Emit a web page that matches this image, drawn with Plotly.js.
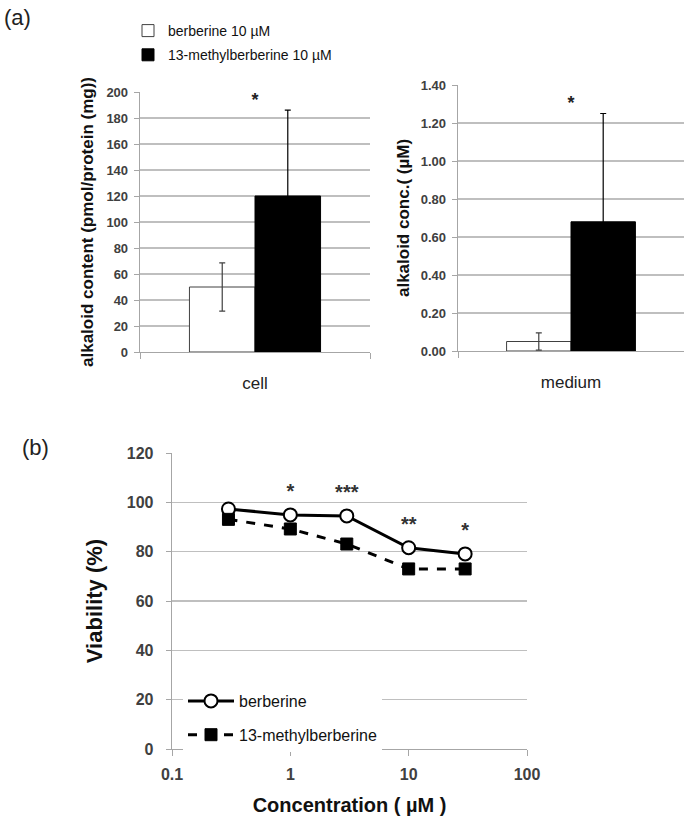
<!DOCTYPE html>
<html><head><meta charset="utf-8">
<script src="https://cdn.plot.ly/plotly-3.0.1.min.js"></script>
<style>html,body{margin:0;padding:0;background:#fff}</style>
</head><body><div id="chart" style="width:685px;height:822px"></div>
<script>
// ---- data (a) ----
const barSeries = ['berberine 10 µM', '13-methylberberine 10 µM'];
const cellCategory = ['cell'];
const mediumCategory = ['medium'];
const cellMeans = [50, 120];
const cellErrors = [18.5, 66];
const mediumMeans = [0.05, 0.68];
const mediumErrors = [0.045, 0.57];
const cellSignificance = ['', '*'];
const mediumSignificance = ['', '*'];
// ---- data (b) ----
const lineSeries = ['berberine', '13-methylberberine'];
const concentrations = [0.3, 1, 3, 10, 30];
const berberineViability = [97.3, 94.9, 94.5, 81.6, 79.1];
const methylViability = [93.1, 89.2, 83.1, 73, 73];
const viabilitySignificance = ['', '*', '***', '**', '*'];

const FONT = 'Liberation Sans, Arial, sans-serif';
const GRID = '#bfbfbf';
const AXIS = '#a6a6a6';
const TXT = '#404040';
const fills = ['#ffffff', '#000000'];
const outlines = ['#404040', '#000000'];
const errColors = ['#404040', '#000000'];

const traces = [];
// bars
barSeries.forEach((name, i) => {
  traces.push({
    type: 'bar', x: cellCategory, y: [cellMeans[i]], name: name,
    xaxis: 'x', yaxis: 'y', legend: 'legend', legendgroup: 'g' + i,
    marker: {color: fills[i], line: {color: outlines[i], width: 1}},
    error_y: {type: 'data', array: [cellErrors[i]], visible: true, color: errColors[i], thickness: 1.2, width: 3},
    showlegend: true, hoverinfo: 'skip'
  });
  traces.push({
    type: 'bar', x: mediumCategory, y: [mediumMeans[i]], name: name,
    xaxis: 'x2', yaxis: 'y2', legendgroup: 'g' + i,
    marker: {color: fills[i], line: {color: outlines[i], width: 1}},
    error_y: {type: 'data', array: [mediumErrors[i]], visible: true, color: errColors[i], thickness: 1.2, width: 3},
    showlegend: false, hoverinfo: 'skip'
  });
});
// significance on bars (placed above error bar tops)
traces.push({
  type: 'scatter', mode: 'text', xaxis: 'x', yaxis: 'y', showlegend: false,
  x: cellCategory, y: [cellMeans[1] + cellErrors[1]], text: [cellSignificance[1]],
  textposition: 'top center', textfont: {family: FONT, size: 18, color: '#222', weight: 'bold'}, hoverinfo: 'skip'
});
traces.push({
  type: 'scatter', mode: 'text', xaxis: 'x2', yaxis: 'y2', showlegend: false,
  x: mediumCategory, y: [mediumMeans[1] + mediumErrors[1]], text: [mediumSignificance[1]],
  textposition: 'top center', textfont: {family: FONT, size: 18, color: '#222', weight: 'bold'}, hoverinfo: 'skip'
});
// lines
traces.push({
  type: 'scatter', mode: 'lines+markers', name: lineSeries[0], x: concentrations, y: berberineViability,
  xaxis: 'x3', yaxis: 'y3', legend: 'legend2', legendgroup: 'l0',
  line: {color: '#000', width: 3},
  marker: {symbol: 'circle', size: 13, color: '#fff', line: {color: '#000', width: 2}}, hoverinfo: 'skip'
});
traces.push({
  type: 'scatter', mode: 'lines+markers', name: lineSeries[1], x: concentrations, y: methylViability,
  xaxis: 'x3', yaxis: 'y3', legend: 'legend2', legendgroup: 'l1',
  line: {color: '#000', width: 3, dash: 'dash'},
  marker: {symbol: 'square', size: 12, color: '#000', line: {color: '#000', width: 1}}, hoverinfo: 'skip'
});
traces.push({
  type: 'scatter', mode: 'text', x: concentrations, y: berberineViability.map(v => v + 9),
  text: viabilitySignificance, xaxis: 'x3', yaxis: 'y3', showlegend: false,
  textposition: 'middle center', textfont: {family: FONT, size: 20, color: '#333', weight: 'bold'}, hoverinfo: 'skip'
});

const baseY = {
  showgrid: true, gridcolor: GRID, gridwidth: 1.3, showline: true, linecolor: AXIS, linewidth: 1.3,
  ticks: 'outside', ticklen: 5, tickcolor: AXIS, zeroline: false, fixedrange: true, ticklabelstandoff: 3,
  tickfont: {family: FONT, size: 13, color: TXT, weight: 'bold'}
};
const layout = {
  width: 685, height: 822, margin: {l: 0, r: 0, t: 0, b: 0},
  paper_bgcolor: '#fff', plot_bgcolor: 'rgba(0,0,0,0)',
  bargap: 0.43, barmode: 'group', showlegend: true,
  font: {family: FONT, color: TXT},
  xaxis: {domain: [140/685, 370/685], anchor: 'y', type: 'category', showline: true, linecolor: AXIS, linewidth: 1.3,
    ticks: 'outside', tickson: 'boundaries', ticklen: 6, tickcolor: AXIS, ticklabelstandoff: 15,
    tickfont: {family: FONT, size: 17, color: '#222'}, showgrid: false, fixedrange: true},
  yaxis: Object.assign({}, baseY, {domain: [1 - 352/822, 1 - 92/822], anchor: 'x', range: [0, 200], dtick: 20,
    title: {text: 'alkaloid content (pmol/protein (mg))', standoff: 8, font: {family: FONT, size: 17, color: '#111', weight: 'bold'}}}),
  xaxis2: {domain: [458/685, 684/685], anchor: 'y2', type: 'category', showline: true, linecolor: AXIS, linewidth: 1.3,
    ticks: 'outside', tickson: 'boundaries', ticklen: 6, tickcolor: AXIS, ticklabelstandoff: 15,
    tickfont: {family: FONT, size: 17, color: '#222'}, showgrid: false, fixedrange: true},
  yaxis2: Object.assign({}, baseY, {domain: [1 - 351/822, 1 - 85/822], anchor: 'x2', range: [0, 1.4], dtick: 0.2, tickformat: '.2f',
    title: {text: 'alkaloid conc.( (µM)', standoff: 6, font: {family: FONT, size: 17, color: '#111', weight: 'bold'}}}),
  xaxis3: {domain: [172/685, 527/685], anchor: 'y3', type: 'log', range: [-1, 2], dtick: 1,
    showline: true, linecolor: AXIS, linewidth: 1.3, ticks: 'outside', ticklen: 6, tickcolor: AXIS,
    showgrid: false, zeroline: false, fixedrange: true, ticklabelstandoff: 4,
    tickfont: {family: FONT, size: 16, color: TXT, weight: 'bold'},
    title: {text: 'Concentration ( µM )', standoff: 16, font: {family: FONT, size: 20, color: '#111', weight: 'bold'}}},
  yaxis3: Object.assign({}, baseY, {domain: [1 - 749/822, 1 - 453/822], anchor: 'x3', range: [0, 120], dtick: 20,
    ticklabelstandoff: 9,
    tickfont: {family: FONT, size: 16, color: TXT, weight: 'bold'},
    title: {text: 'Viability (%)', standoff: 18, font: {family: FONT, size: 22, color: '#111', weight: 'bold'}}}),
  legend: {x: 128/685, y: 1 - 15/822, xanchor: 'left', yanchor: 'top', bgcolor: 'rgba(0,0,0,0)',
    traceorder: 'grouped', tracegroupgap: 3, itemwidth: 30,
    font: {family: FONT, size: 14, color: '#111'}},
  legend2: {x: 183/685, y: 1 - 684/822, xanchor: 'left', yanchor: 'top', bgcolor: '#fff',
    traceorder: 'grouped', tracegroupgap: 10, itemwidth: 46,
    font: {family: FONT, size: 16, color: '#111'}},
  annotations: [
    {text: '(a)', xref: 'paper', yref: 'paper', x: 2/685, y: 1 - 3/822, xanchor: 'left', yanchor: 'top', showarrow: false,
      font: {family: FONT, size: 22, color: '#222'}},
    {text: '(b)', xref: 'paper', yref: 'paper', x: 20/685, y: 1 - 433/822, xanchor: 'left', yanchor: 'top', showarrow: false,
      font: {family: FONT, size: 22, color: '#222'}}
  ]
};
Plotly.newPlot('chart', traces, layout, {staticPlot: true, displayModeBar: false});
</script></body></html>
